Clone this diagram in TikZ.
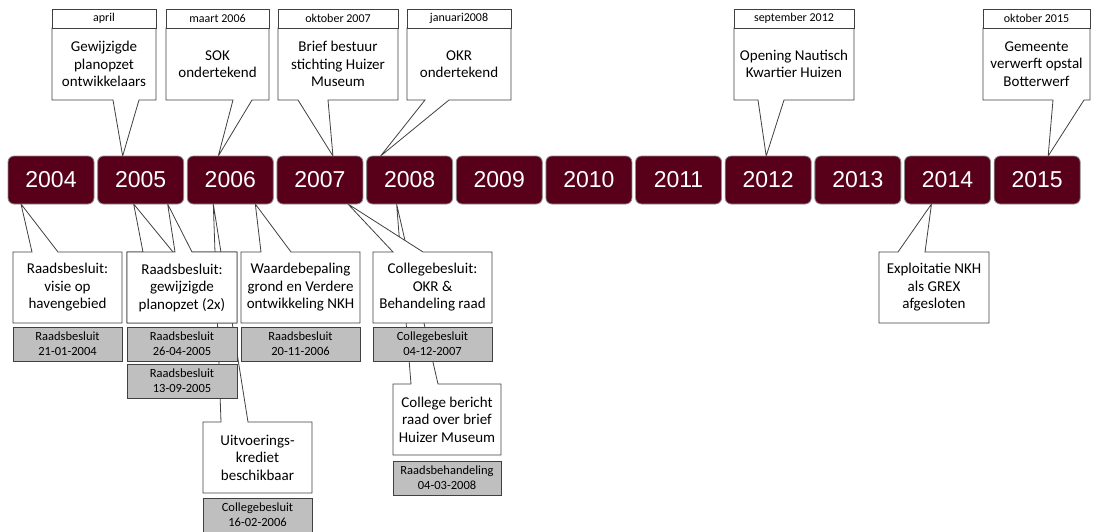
\documentclass[tikz,border=0pt]{standalone}
\usepackage{fontspec}
\setmainfont{Carlito}
\newfontfamily\jaarfont{Liberation Sans}
\usetikzlibrary{positioning,backgrounds}

\definecolor{jaarrood}{RGB}{88,0,26}
\definecolor{grijsvak}{RGB}{191,191,191}
\definecolor{lijn}{RGB}{64,64,64}

\tikzset{
  jaar/.style={rectangle, rounded corners=6pt, fill=jaarrood, draw=black!45, line width=0.8pt,
    minimum width=86pt, minimum height=48pt, inner sep=0pt, outer sep=0pt,
    text=white, font=\jaarfont\fontsize{23}{25}\selectfont},
  kop/.style={rectangle, draw=lijn, fill=white, line width=0.8pt, minimum height=19pt,
    inner sep=0pt, outer sep=0pt, font=\fontsize{12}{14}\selectfont},
  tekst/.style={rectangle, minimum height=72pt, inner sep=0pt, outer sep=0pt,
    align=center, font=\fontsize{15}{17.5}\selectfont},
  wolk/.style={draw=lijn, fill=white, line width=0.8pt, line join=miter},
  datum/.style={rectangle, draw=lijn, fill=grijsvak, line width=0.8pt, minimum height=34pt,
    inner sep=0pt, outer sep=0pt, align=center, font=\fontsize{12.5}{15}\selectfont},
}

\begin{document}
\begin{tikzpicture}[x=1pt,y=-1pt]
\newcommand{\wolkboven}[5]{
  \begin{pgfonlayer}{background}
  \draw[wolk] (#1.north west) -- (#1.north east) -- (#1.south east) -- ([xshift=#5pt]#1.south west)
    -- ([xshift=#3pt]#2.north west) -- ([xshift=#4pt]#1.south west) -- (#1.south west) -- cycle;
  \end{pgfonlayer}}
\newcommand{\wolkonder}[5]{
  \begin{pgfonlayer}{background}
  \draw[wolk] (#1.south west) -- (#1.north west) -- ([xshift=#4pt]#1.north west)
    -- ([xshift=#3pt]#2.south west) -- ([xshift=#5pt]#1.north west) -- (#1.north east)
    -- (#1.south east) -- cycle;
  \end{pgfonlayer}}

\useasboundingbox (0,0) rectangle (1097,532);

\foreach \jr [count=\i from 0] in {2004,...,2015}
  \node[jaar] (j\jr) at (51+89.65*\i,180) {\jr};

\node[kop, minimum width=104pt] (kApril) at (104,18.5) {april};
\node[tekst, minimum width=104pt, below=0pt of kApril] (tApril) {Gewijzigde\\planopzet\\ontwikkelaars};
\wolkboven{tApril}{j2005}{25}{61}{87}

\node[kop, minimum width=103pt] (kSok) at (217.5,18.5) {maart 2006};
\node[tekst, minimum width=103pt, below=0pt of kSok] (tSok) {SOK\\ondertekend};
\wolkboven{tSok}{j2006}{31}{67}{86}

\node[kop, minimum width=120pt] (kBrief) at (338,18.5) {oktober 2007};
\node[tekst, minimum width=120pt, below=0pt of kBrief] (tBrief) {Brief bestuur\\stichting Huizer\\Museum};
\wolkboven{tBrief}{j2007}{56}{20}{50}

\node[kop, minimum width=104pt] (kOkr) at (459,18.5) {januari2008};
\node[tekst, minimum width=104pt, below=0pt of kOkr] (tOkr) {OKR\\ondertekend};
\wolkboven{tOkr}{j2008}{14}{18}{42}

\node[kop, minimum width=120pt] (kOpening) at (794,18.5) {september 2012};
\node[tekst, minimum width=120pt, below=0pt of kOpening] (tOpening) {Opening Nautisch\\Kwartier Huizen};
\wolkboven{tOpening}{j2012}{41}{24}{50}

\node[kop, minimum width=107pt] (kOpstal) at (1036.5,18.5) {oktober 2015};
\node[tekst, minimum width=107pt, below=0pt of kOpstal] (tOpstal) {Gemeente\\verwerft opstal\\Botterwerf};
\wolkboven{tOpstal}{j2015}{54}{70}{101}

\node[tekst, minimum width=109pt, minimum height=71pt] (bKrediet) at (257.5,457.5) {Uitvoerings-\\krediet\\beschikbaar};
\wolkonder{bKrediet}{j2006}{26}{18}{45}
\node[datum, minimum width=109pt, below=5pt of bKrediet] (dKrediet) {Collegebesluit\\16-02-2006};

\node[tekst, minimum width=109pt, minimum height=71pt] (bVisie) at (67.5,287.5) {Raadsbesluit:\\visie op\\havengebied};
\wolkonder{bVisie}{j2004}{13}{19}{45}
\node[datum, minimum width=109pt, below=4pt of bVisie] (dVisie) {Raadsbesluit\\21-01-2004};

\node[tekst, minimum width=110pt, minimum height=71pt] (bPlan) at (182,287.5) {Raadsbesluit:\\gewijzigde\\planopzet (2x)};
\wolkonder{bPlan}{j2005}{36}{16}{46}
\wolkonder{bPlan}{j2005}{70}{48}{65}
\node[datum, minimum width=110pt, below=4pt of bPlan] (dPlanA) {Raadsbesluit\\26-04-2005};
\node[datum, minimum width=110pt, below=3pt of dPlanA] (dPlanB) {Raadsbesluit\\13-09-2005};

\node[tekst, minimum width=119pt, minimum height=71pt] (bWaarde) at (300.5,287.5) {Waardebepaling\\grond en Verdere\\ontwikkeling NKH};
\wolkonder{bWaarde}{j2006}{68}{20}{50}
\node[datum, minimum width=119pt, below=4pt of bWaarde] (dWaarde) {Raadsbesluit\\20-11-2006};

\node[tekst, minimum width=108pt, minimum height=71pt] (bBericht) at (447,419.5) {College bericht\\raad over brief\\Huizer Museum};
\wolkonder{bBericht}{j2008}{30}{18}{45}
\node[datum, minimum width=108pt, below=6pt of bBericht] (dBericht) {Raadsbehandeling\\04-03-2008};

\node[tekst, minimum width=119pt, minimum height=71pt] (bCollege) at (432.5,287.5) {Collegebesluit:\\OKR \&\\Behandeling raad};
\wolkonder{bCollege}{j2007}{71}{20}{50}
\node[datum, minimum width=119pt, below=4pt of bCollege] (dCollege) {Collegebesluit\\04-12-2007};

\node[tekst, minimum width=110pt, minimum height=71pt] (bGrex) at (934,287.5) {Exploitatie NKH\\als GREX\\afgesloten};
\wolkonder{bGrex}{j2014}{27}{19}{46}
\end{tikzpicture}
\end{document}
